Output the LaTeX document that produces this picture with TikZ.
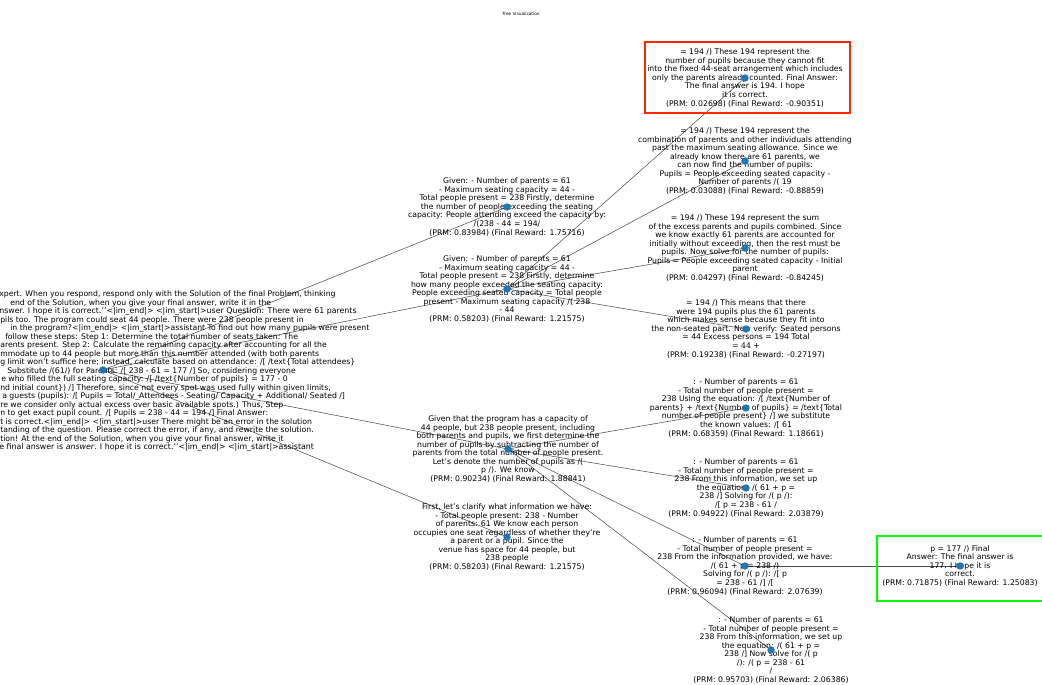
\documentclass[tikz,border=0pt]{standalone}
\usepackage{fontspec}
\setmainfont{DejaVu Sans}
\newfontfamily\serifmath{DejaVu Serif}
\definecolor{dotblue}{HTML}{1F77B4}
\definecolor{boxred}{HTML}{FF2A00}
\definecolor{boxgreen}{HTML}{00FF00}

\begin{document}
\begin{tikzpicture}[x=0.75pt,y=-0.75pt,
  txt/.style={align=center,inner sep=0pt,font=\fontsize{5.8}{6.4}\selectfont},
  rootline/.style={anchor=base west,inner sep=0pt,font=\fontsize{5.8}{6.4}\selectfont},
  rootmath/.style={rootline,font=\fontsize{5.9}{6.4}\selectfont},
  dot/.style={circle,fill=dotblue,inner sep=0pt,minimum size=5.6pt},
  edge/.style={draw=black!70,line width=0.4pt}]
\useasboundingbox (0,0) rectangle (1042,685);
% positions of the tree nodes
\coordinate (R) at (103,370);
\coordinate (A) at (507,207);
\coordinate (B) at (507,289);
\coordinate (C) at (508,449);
\coordinate (D) at (507,537);
\coordinate (E) at (745,78);
\coordinate (F) at (745,161);
\coordinate (G) at (745,248);
\coordinate (H) at (746,329);
\coordinate (I) at (746,408);
\coordinate (J) at (746,488);
\coordinate (K) at (745,566);
\coordinate (L) at (771,650);
\coordinate (M) at (960,566);
% edges
\foreach \p/\c in {R/A,R/B,R/C,R/D,B/E,B/F,B/G,B/H,C/I,C/J,C/K,C/L,K/M}
  \draw[edge] (\p) -- (\c);

\node[font=\fontsize{3.2}{4}\selectfont] (title) at (521,14) {Tree Visualization};

% root text, cut at the left border
\node[rootline] (r1) at (-1,296) {xpert. When you respond, respond only with the Solution of the final Problem, thinking};
\node[rootline] (r2) at (10,305) {end of the Solution, when you give your final answer, write it in the};
\node[rootmath] (r3) at (-1,313) {nswer. I hope it is correct.'{}'<|im\_end|> <|im\_start|>user Question: There were 61 parents};
\node[rootline] (r4) at (0,322) {pils too. The program could seat 44 people. There were 238 people present in};
\node[rootline] (r5) at (10,330) {in the program?<|im\_end|> <|im\_start|>assistant To find out how many pupils were present};
\node[rootline] (r6) at (5,339) {follow these steps: Step 1: Determine the total number of seats taken: The};
\node[rootline] (r7) at (0,347) {arents present. Step 2: Calculate the remaining capacity after accounting for all the};
\node[rootline] (r8) at (0,356) {mmodate up to 44 people but more than this number attended (with both parents};
\node[rootline] (r9) at (0,364) {g limit won't suffice here; instead, calculate based on attendance: /[ /text\{Total attendees\}};
\node[rootline] (r10) at (7,373) {Substitute /(61/) for Parents: /[ 238 - 61 = 177 /] So, considering everyone};
\node[rootline] (r11) at (1,381) {e who filled the full seating capacity: /[ /text\{Number of pupils\} = 177 - 0};
\node[rootline] (r12) at (0,390) {nd initial count\}) /] Therefore, since not every spot was used fully within given limits,};
\node[rootline] (r13) at (2,398) {a guests (pupils): /[ Pupils = Total/\_Attendees - Seating/ Capacity + Additional/ Seated /]};
\node[rootline] (r14) at (0,407) {re we consider only actual excess over basic available spots.) Thus, Step};
\node[rootline] (r15) at (0,415) {n to get exact pupil count. /[ Pupils = 238 - 44 = 194 /] Final Answer:};
\node[rootline] (r16) at (0,424) {t is correct.<|im\_end|> <|im\_start|>user There might be an error in the solution};
\node[rootline] (r17) at (0,432) {tanding of the question. Please correct the error, if any, and rewrite the solution.};
\node[rootline] (r18) at (0,441) {tion! At the end of the Solution, when you give your final answer, write it};
\node[rootmath] (r19) at (-1,449) {e final answer is \textit{answer}. I hope it is correct.'{}'<|im\_end|> <|im\_start|>assistant};

% first level
\node[txt] (tA) at (A) {Given: - Number of parents = 61\\- Maximum seating capacity = 44 -\\Total people present = 238 Firstly, determine\\the number of people exceeding the seating\\capacity: People attending exceed the capacity by:\\/(238 - 44 = 194/\\(PRM: 0.83984) (Final Reward: 1.75716)};
\node[txt] (tB) at (B) {Given: - Number of parents = 61\\- Maximum seating capacity = 44 -\\Total people present = 238 Firstly, determine\\how many people exceeded the seating capacity:\\People exceeding seated capacity = Total people\\present - Maximum seating capacity /( 238\\- 44\\(PRM: 0.58203) (Final Reward: 1.21575)};
\node[txt] (tC) at (C) {Given that the program has a capacity of\\44 people, but 238 people present, including\\both parents and pupils, we first determine the\\number of pupils by subtracting the number of\\parents from the total number of people present.\\Let's denote the number of pupils as /(\\p /). We know\\(PRM: 0.90234) (Final Reward: 1.88841)};
\node[txt] (tD) at (D) {First, let's clarify what information we have:\\- Total people present: 238 - Number\\of parents: 61 We know each person\\occupies one seat regardless of whether they're\\a parent or a pupil. Since the\\venue has space for 44 people, but\\238 people\\(PRM: 0.58203) (Final Reward: 1.21575)};

% second level
\node[txt] (tE) at (E) {= 194 /) These 194 represent the\\number of pupils because they cannot fit\\into the fixed 44-seat arrangement which includes\\only the parents already counted. Final Answer:\\The final answer is 194. I hope\\it is correct.\\(PRM: 0.02698) (Final Reward: -0.90351)};
\node[txt] (tF) at (F) {= 194 /) These 194 represent the\\combination of parents and other individuals attending\\past the maximum seating allowance. Since we\\already know there are 61 parents, we\\can now find the number of pupils:\\Pupils = People exceeding seated capacity -\\Number of parents /( 19\\(PRM: 0.03088) (Final Reward: -0.88859)};
\node[txt] (tG) at (G) {= 194 /) These 194 represent the sum\\of the excess parents and pupils combined. Since\\we know exactly 61 parents are accounted for\\initially without exceeding, then the rest must be\\pupils. Now solve for the number of pupils:\\Pupils = People exceeding seated capacity - Initial\\parent\\(PRM: 0.04297) (Final Reward: -0.84245)};
\node[txt] (tH) at (H) {= 194 /) This means that there\\were 194 pupils plus the 61 parents\\which makes sense because they fit into\\the non-seated part. Now verify: Seated persons\\= 44 Excess persons = 194 Total\\{\serifmath = 44 +}\\(PRM: 0.19238) (Final Reward: -0.27197)};
\node[txt] (tI) at (I) {: - Number of parents = 61\\- Total number of people present =\\238 Using the equation: /[ /text\{Number of\\parents\} + /text\{Number of pupils\} = /text\{Total\\number of people present\} /] we substitute\\the known values: /[ 61\\(PRM: 0.68359) (Final Reward: 1.18661)};
\node[txt] (tJ) at (J) {: - Number of parents = 61\\- Total number of people present =\\238 From this information, we set up\\the equation: /( 61 + p =\\238 /] Solving for /( p /):\\/[ p = 238 - 61 /\\(PRM: 0.94922) (Final Reward: 2.03879)};
\node[txt] (tK) at (K) {: - Number of parents = 61\\- Total number of people present =\\238 From the information provided, we have:\\/( 61 + p = 238 /)\\Solving for /( p /): /[ p\\= 238 - 61 /] /[\\(PRM: 0.96094) (Final Reward: 2.07639)};
\node[txt] (tL) at (L) {: - Number of parents = 61\\- Total number of people present =\\238 From this information, we set up\\the equation: /( 61 + p =\\238 /] Now solve for /( p\\/): /( p = 238 - 61\\/\\(PRM: 0.95703) (Final Reward: 2.06386)};

% third level
\node[txt] (tM) at (M) {p = 177 /) Final\\Answer: The final answer is\\177. I hope it is\\correct.\\(PRM: 0.71875) (Final Reward: 1.25083)};

% highlight frames
\draw[boxred,line width=2pt] (645,42) rectangle (850,113);
\draw[boxgreen,line width=2pt] (877,536) rectangle (1048,601);

% dots on top
\foreach \n in {R,A,B,C,D,E,F,G,H,I,J,K,L,M}
  \node[dot] (d\n) at (\n) {};
\end{tikzpicture}
\end{document}
